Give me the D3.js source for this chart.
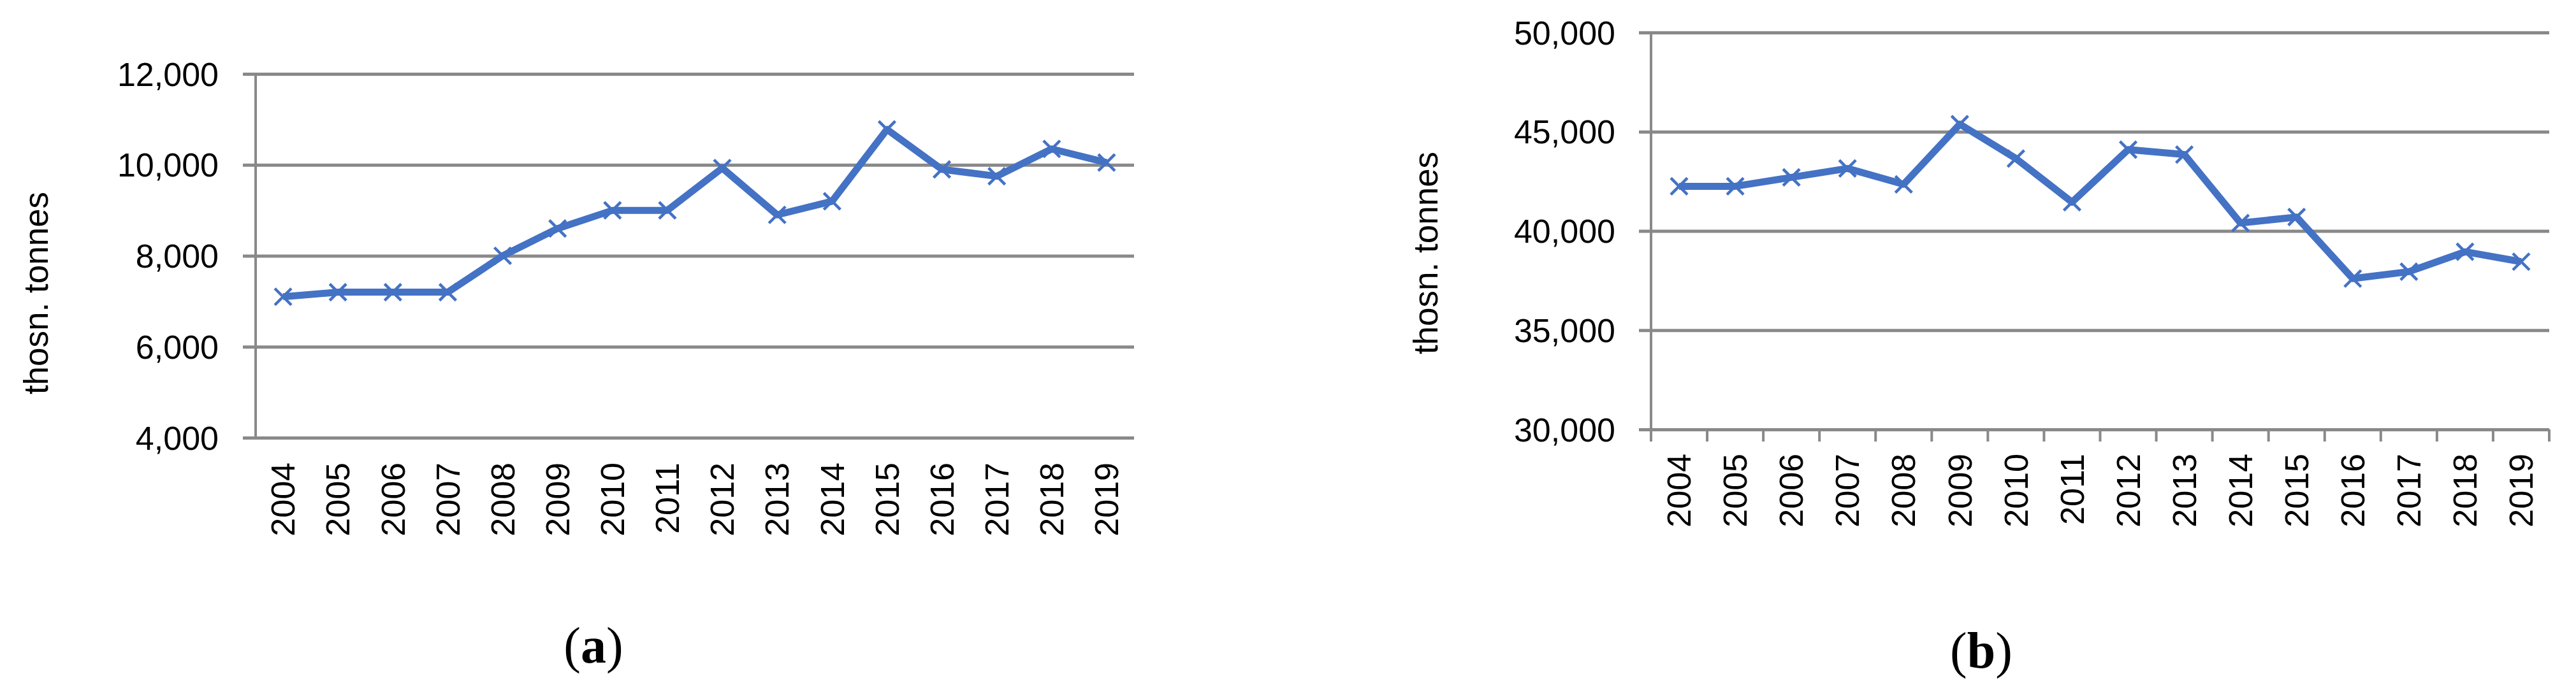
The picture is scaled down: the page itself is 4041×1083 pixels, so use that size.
<!DOCTYPE html>
<html>
<head>
<meta charset="utf-8">
<script src="https://cdn.jsdelivr.net/npm/d3@7"></script>
<style>
  html, body { margin: 0; padding: 0; background: #fff; }
  svg { display: block; }
</style>
</head>
<body>
<svg id="chart" width="4041" height="1083"></svg>
<script>
const years = ["2004","2005","2006","2007","2008","2009","2010","2011","2012","2013","2014","2015","2016","2017","2018","2019"];
const seriesA = [7100, 7200, 7200, 7200, 8000, 8600, 9000, 9000, 9930, 8900, 9200, 10780, 9900, 9750, 10350, 10050];
const seriesB = [42250, 42250, 42700, 43150, 42350, 45380, 43650, 41450, 44100, 43850, 40400, 40700, 37600, 37950, 38950, 38450];
const ticksA = [4000, 6000, 8000, 10000, 12000];
const ticksB = [30000, 35000, 40000, 45000, 50000];
const yTitle = "thosn. tonnes";
const panelLabels = ["a", "b"];

const svg = d3.select("#chart");
svg.append("rect").attr("width", 4041).attr("height", 1083).attr("fill", "#fff");

const GRID = "#898989";
const BLUE = "#4472C4";
const FONT = "'Liberation Sans', Arial, sans-serif";
const fmt = d3.format(",");

function panel(cfg) {
  const g = svg.append("g");
  const x = d3.scaleBand().domain(years).range([cfg.x0, cfg.x1]);
  const y = d3.scaleLinear().domain([cfg.ticks[0], cfg.ticks[cfg.ticks.length - 1]]).range([cfg.yBottom, cfg.yTop]);

  // gridlines + y tick labels (axis anchored at right end, ticks reaching past left axis)
  const yAxis = d3.axisLeft(y).tickValues(cfg.ticks).tickFormat(fmt)
    .tickSize(cfg.x1 - cfg.gridStart).tickPadding(cfg.labelGap);
  const ya = g.append("g").attr("transform", `translate(${cfg.x1},0)`).call(yAxis);
  ya.select(".domain").remove();
  ya.selectAll(".tick line").attr("stroke", GRID).attr("stroke-width", 5);
  ya.selectAll(".tick text").attr("font-family", FONT).attr("font-size", 52).attr("fill", "#000").attr("dy", "0.35em");

  // vertical axis line
  g.append("line")
    .attr("x1", cfg.x0).attr("x2", cfg.x0)
    .attr("y1", y(cfg.ticks[cfg.ticks.length - 1])).attr("y2", y(cfg.ticks[0]))
    .attr("stroke", GRID).attr("stroke-width", 4);

  // category tick marks (panel b only)
  if (cfg.catTicks) {
    const bounds = years.map(d => x(d)).concat([cfg.x1]);
    g.selectAll(".ctick").data(bounds).join("line")
      .attr("x1", d => d).attr("x2", d => d)
      .attr("y1", y(cfg.ticks[0])).attr("y2", y(cfg.ticks[0]) + 19)
      .attr("stroke", GRID).attr("stroke-width", 4);
  }

  // x axis labels
  const xAxis = d3.axisBottom(x).tickSize(0).tickPadding(0);
  const xa = g.append("g").attr("transform", `translate(0,${y(cfg.ticks[0])})`).call(xAxis);
  xa.select(".domain").remove();
  xa.selectAll(".tick text")
    .attr("font-family", FONT).attr("font-size", 52).attr("fill", "#000")
    .attr("transform", "rotate(-90)")
    .attr("text-anchor", "end")
    .attr("x", -cfg.xLabelGap).attr("y", 0).attr("dy", "0.35em");

  // line
  const line = d3.line().x((d, i) => x(years[i]) + x.bandwidth() / 2).y(d => y(d));
  g.append("path").datum(cfg.values)
    .attr("d", line).attr("fill", "none")
    .attr("stroke", BLUE).attr("stroke-width", 11).attr("stroke-linejoin", "round");

  // x markers
  const m = 13;
  g.selectAll(".mk").data(cfg.values).join("path")
    .attr("d", (d, i) => {
      const cx = x(years[i]) + x.bandwidth() / 2, cy = y(d);
      return `M${cx - m},${cy - m}L${cx + m},${cy + m}M${cx - m},${cy + m}L${cx + m},${cy - m}`;
    })
    .attr("stroke", BLUE).attr("stroke-width", 4.5).attr("fill", "none");

  // y title
  g.append("text")
    .attr("transform", `translate(${cfg.titleX},${cfg.titleY}) rotate(-90)`)
    .attr("text-anchor", "middle")
    .attr("font-family", FONT).attr("font-size", 53).attr("fill", "#000")
    .text(yTitle);

  // panel label
  const pl = svg.append("text")
    .attr("x", cfg.plX).attr("y", cfg.plY)
    .attr("text-anchor", "middle")
    .attr("font-family", "'Liberation Serif', 'Times New Roman', serif")
    .attr("font-size", 80).attr("fill", "#000");
  pl.append("tspan").text("(");
  pl.append("tspan").attr("font-weight", "bold").text(cfg.label);
  pl.append("tspan").text(")");
}

panel({
  values: seriesA, ticks: ticksA,
  x0: 401, x1: 1779, gridStart: 381, yTop: 116, yBottom: 687,
  labelGap: 38, xLabelGap: 39, catTicks: false,
  titleX: 75, titleY: 460, plX: 931, plY: 1040, label: panelLabels[0]
});

panel({
  values: seriesB, ticks: ticksB,
  x0: 2590, x1: 3999, gridStart: 2571, yTop: 51, yBottom: 674,
  labelGap: 37, xLabelGap: 38, catTicks: true,
  titleX: 2255, titleY: 397, plX: 3108, plY: 1048, label: panelLabels[1]
});
</script>
</body>
</html>
